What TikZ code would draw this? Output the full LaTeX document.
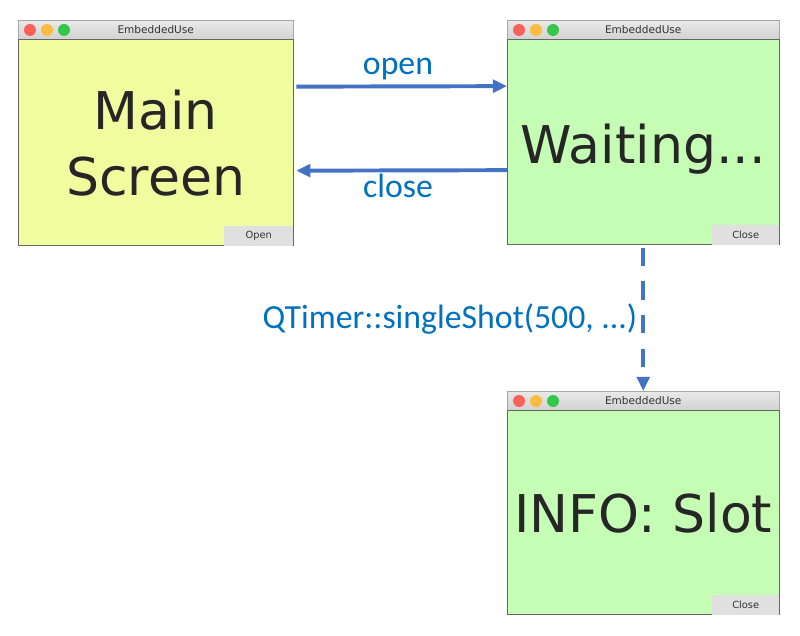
\documentclass[tikz,border=0pt]{standalone}
\usepackage{fontspec}
\setmainfont{DejaVu Sans}
\newfontfamily\labelfont{Carlito}
\usetikzlibrary{positioning,arrows.meta}

\definecolor{arrowblue}{HTML}{4472C4}
\definecolor{labelblue}{HTML}{0070C0}
\definecolor{mainyellow}{HTML}{F0FD9F}
\definecolor{waitgreen}{HTML}{C5FDB5}
\definecolor{barlight}{HTML}{E9E9E9}
\definecolor{bardark}{HTML}{D2D2D2}
\definecolor{buttongray}{HTML}{E0E0E0}
\definecolor{lightred}{HTML}{FC605B}
\definecolor{lightyellow}{HTML}{FDBC40}
\definecolor{lightgreen}{HTML}{34C84A}

\tikzset{
  titlebar/.style={anchor=north west, inner sep=0pt, minimum height=0.475cm,
    top color=barlight, bottom color=bardark, draw=black!35, line width=0.3pt,
    text=black!80, font=\fontsize{7.5}{9}\selectfont},
  winbody/.style={anchor=north west, inner sep=0pt, draw=black!60, line width=0.3pt,
    align=center, text=black!85, font=\fontsize{37}{47}\selectfont},
  winbutton/.style={anchor=south east, inner sep=0pt, minimum height=0.5cm,
    fill=buttongray, text=black!80, font=\fontsize{7}{8}\selectfont},
  flowarrow/.style={line width=2.8pt, draw=arrowblue,
    -{Triangle[length=10pt,width=9pt]}},
  flowlabel/.style={text=labelblue, font=\labelfont\fontsize{24}{28}\selectfont, inner sep=0pt},
}

\begin{document}
\begin{tikzpicture}[x=0.025cm,y=-0.025cm]
\useasboundingbox (0,0) rectangle (800,636);

% Window Main Screen
\node [titlebar, minimum width=6.875cm] (mainbar) at (18,20) {EmbeddedUse};
\node [winbody, fill=mainyellow, minimum width=6.875cm, minimum height=5.15cm]
  (main) at (mainbar.south west) {Main\\Screen};
\node [winbutton, minimum width=1.725cm] (mainbtn) at (main.south east) {Open};
\fill [lightred] (30,30) circle (6);
\fill [lightyellow] (47,30) circle (6);
\fill [lightgreen] (64,30) circle (6);

% Window Waiting
\node [titlebar, minimum width=6.8cm] (waitbar) at (507,20) {EmbeddedUse};
\node [winbody, fill=waitgreen, minimum width=6.8cm, minimum height=5.125cm]
  (wait) at (waitbar.south west) {\raisebox{-0.54cm}[0pt][0pt]{Waiting...}};
\node [winbutton, minimum width=1.675cm] (waitbtn) at (wait.south east) {Close};
\fill [lightred] (519,30) circle (6);
\fill [lightyellow] (536,30) circle (6);
\fill [lightgreen] (553,30) circle (6);

% Window Slot
\node [titlebar, minimum width=6.8cm] (infobar) at (507,391) {EmbeddedUse};
\node [winbody, fill=waitgreen, minimum width=6.8cm, minimum height=5.1cm]
  (info) at (infobar.south west) {INFO: Slot};
\node [winbutton, minimum width=1.675cm] (infobtn) at (info.south east) {Close};
\fill [lightred] (519,401) circle (6);
\fill [lightyellow] (536,401) circle (6);
\fill [lightgreen] (553,401) circle (6);

% Drawing open and close
\draw [flowarrow, shorten <=2pt] ([yshift=1.4cm]main.east) -- ([yshift=1.4cm]wait.west);
\draw [flowarrow, shorten >=2pt] ([yshift=-0.7cm]wait.west) -- ([yshift=-0.7cm]main.east);
\node [flowlabel, anchor=base] (openlbl) at (398,75) {open};
\node [flowlabel, anchor=base] (closelbl) at (398,198) {close};

% Drawing timer
\draw [flowarrow, dash pattern=on 13pt off 11pt, shorten <=2pt]
  (wait.south) -- (infobar.north);
\node [flowlabel, anchor=base] (timerlbl) at (450,328) {QTimer::singleShot(500, ...)};
\end{tikzpicture}
\end{document}
